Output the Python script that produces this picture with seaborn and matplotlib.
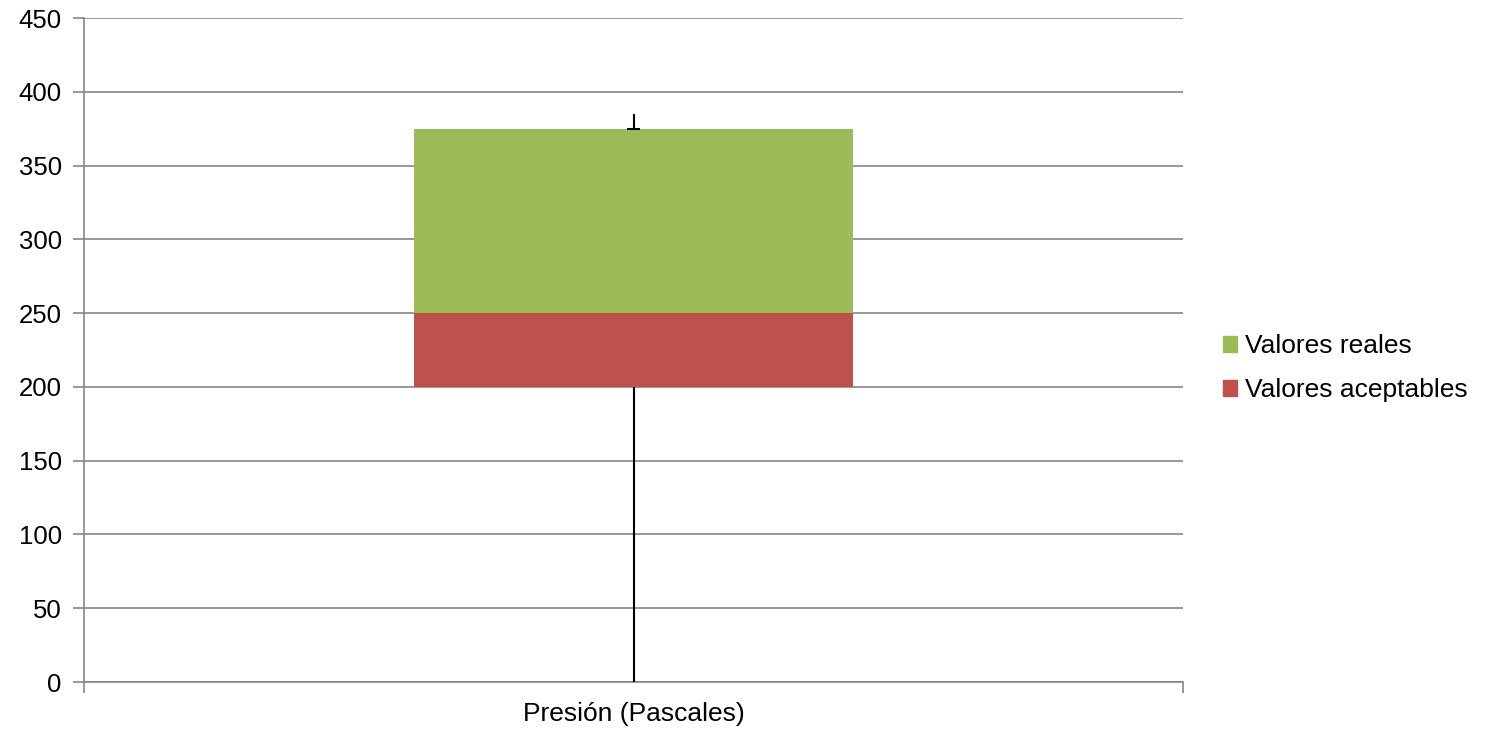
import matplotlib
matplotlib.use("Agg")
import matplotlib.pyplot as plt
import seaborn as sns
import numpy as np
from matplotlib.patches import Patch

categories = ["Presión (Pascales)"]
base_vals = [200]
aceptables = [50]
reales = [125]
err_up = [10]
err_down = [200]
yticks = [0, 50, 100, 150, 200, 250, 300, 350, 400, 450]

sns.set_style("white")
plt.rcParams['font.family'] = ['Liberation Sans', 'DejaVu Sans']
plt.rcParams['text.color'] = 'black'
plt.rcParams['xtick.color'] = 'black'
plt.rcParams['ytick.color'] = 'black'

fig = plt.figure(figsize=(14.99, 7.30), dpi=100)
ax = fig.add_axes([84/1499, 1-682/730, 1099/1499, 664/730])

green = "#9BBB59"
red = "#C0504D"
grid = "#868686"

sns.barplot(x=categories, y=aceptables, bottom=base_vals, color=red, width=0.4,
            saturation=1, ax=ax, zorder=2, linewidth=0)
top_red = [b + a for b, a in zip(base_vals, aceptables)]
sns.barplot(x=categories, y=reales, bottom=top_red, color=green, width=0.4,
            saturation=1, ax=ax, zorder=2, linewidth=0)

xs = np.arange(len(categories))
top_green = [t + r for t, r in zip(top_red, reales)]
ax.vlines(xs, top_green, [t + e for t, e in zip(top_green, err_up)], color="black", lw=1.5, zorder=3)
ax.hlines(top_green, xs - 0.006, xs + 0.006, color="black", lw=1.5, zorder=3)
ax.vlines(xs, [b - e for b, e in zip(base_vals, err_down)], base_vals, color="black", lw=1.5, zorder=3)

ax.set_xlim(-0.5, len(categories) - 0.5)
ax.set_ylim(0, 450)
ax.set_yticks(yticks)
ax.set_yticklabels([str(v) for v in yticks], fontsize=18.5, color="black")
ax.yaxis.grid(True, color=grid, lw=1.2, zorder=0)
ax.set_axisbelow(True)
for s in ["top", "right"]:
    ax.spines[s].set_visible(False)
for s in ["left", "bottom"]:
    ax.spines[s].set_color(grid)
    ax.spines[s].set_linewidth(1.2)
ax.tick_params(axis="y", left=True, length=8, color=grid, width=1.2, pad=8, labelcolor="black")
ax.set_xticks([-0.5, 0.5], minor=True)
ax.tick_params(axis="x", which="minor", bottom=True, length=8, color=grid, width=1.2)
ax.tick_params(axis="x", which="major", bottom=False, labelsize=19, pad=11, labelcolor="black")
ax.set_xticks(xs)
ax.set_xticklabels(categories)
ax.set_xlabel("")
ax.set_ylabel("")

handles = [Patch(color=green, label="Valores reales"), Patch(color=red, label="Valores aceptables")]
leg = fig.legend(handles=handles, loc="center left", bbox_to_anchor=(1199/1499, 1-368/730),
           frameon=False, fontsize=19, handlelength=0.55, handleheight=0.55,
           handletextpad=0.3, labelspacing=0.75)
for t in leg.get_texts():
    t.set_color("black")

fig.savefig("out.png", dpi=100)
